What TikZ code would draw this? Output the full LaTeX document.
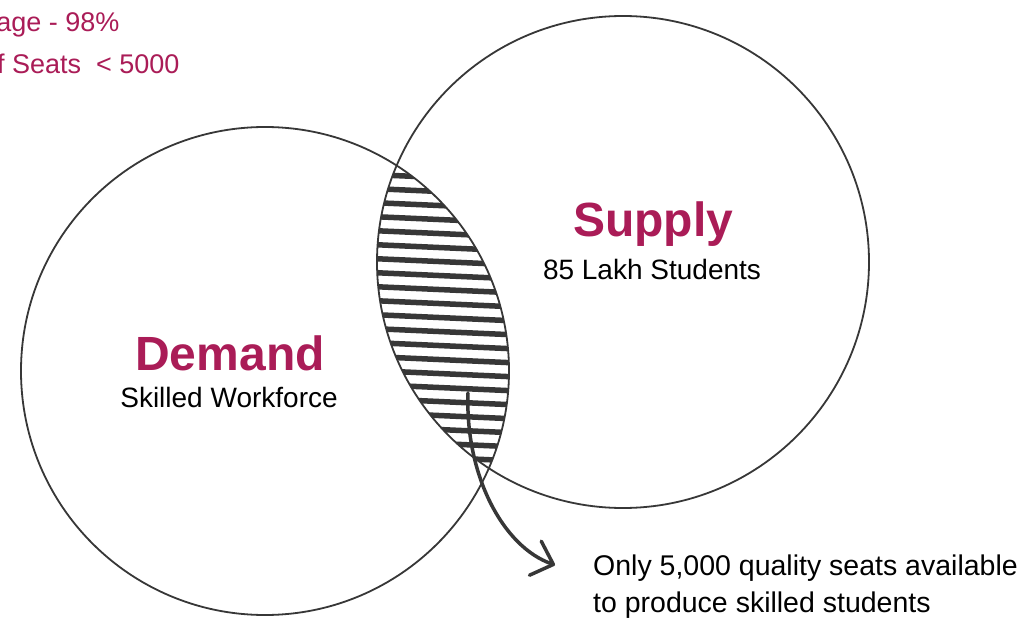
\documentclass[tikz,border=0pt]{standalone}
\usepackage{fontspec}
\setmainfont{Liberation Sans}
\usetikzlibrary{arrows.meta}
\definecolor{crim}{RGB}{170,28,87}
\definecolor{ink}{RGB}{55,55,55}
\begin{document}
\begin{tikzpicture}[x=1pt,y=-1pt,
  ring/.style={draw=ink, line width=1.8pt, circle, inner sep=0pt},
  title/.style={text=crim, font=\fontsize{48}{50}\selectfont\bfseries, anchor=base},
  sub/.style={text=black, font=\fontsize{28}{32}\selectfont, anchor=base},
  stat/.style={text=crim, font=\fontsize{27}{30}\selectfont, anchor=base east},
  note/.style={text=black, font=\fontsize{28.5}{37}\selectfont, anchor=base west, inner sep=0pt},
  hatch/.style={ink, line width=5.5pt},
  pointer/.style={ink, line width=3.5pt, line cap=round, -{Straight Barb[length=19pt,width=36pt,line cap=round,line join=round]}}]
\fill[white] (0,0) rectangle (1021,626);
\useasboundingbox (0,0) rectangle (1021,626);
% hatched overlap
\begin{scope}
  \clip (265,371) circle[radius=244pt];
  \clip (623,262) circle[radius=246pt];
  \foreach \i in {0,...,24}
    \draw[hatch] (360,{160+14*\i}) -- (540,{168+14*\i});
\end{scope}
% circles
\node[ring, minimum size=488pt] (demand) at (265,371) {};
\node[ring, minimum size=492pt] (supply) at (623,262) {};
% labels
\node[title] (dtitle) at (230,370) {Demand};
\node[sub] (dsub) at (229,407) {Skilled Workforce};
\node[title] (stitle) at (653,236) {Supply};
\node[sub] (ssub) at (652,279) {85 Lakh Students};
\node[stat] (stat1) at (123,32) {age - 98\%};
\node[stat] (stat2) at (183,74) {of Seats\ \ < 5000};
\node[note] (note1) at (593,575) {Only 5,000 quality seats available};
\node[note] (note2) at (593,612) {to produce skilled students};
% pointer
\coordinate (astart) at (468,393);
\coordinate (aend) at (555,565);
\draw[pointer] (astart) .. controls (465,475) and (503,547) .. (aend);
\end{tikzpicture}
\end{document}
